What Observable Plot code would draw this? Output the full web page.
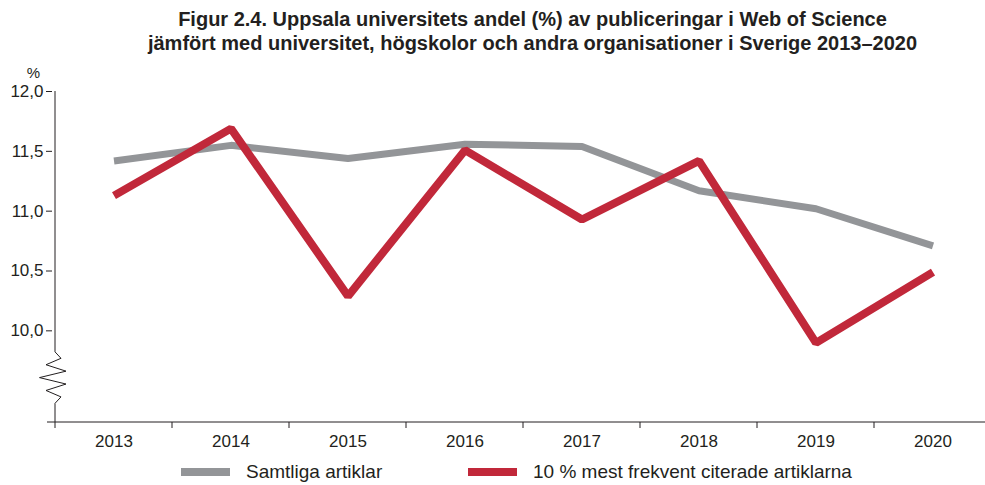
<!DOCTYPE html>
<html>
<head>
<meta charset="utf-8">
<script src="https://cdn.jsdelivr.net/npm/d3@7"></script>
<script src="https://cdn.jsdelivr.net/npm/@observablehq/plot@0.6"></script>
<style>
  html, body { margin: 0; padding: 0; background: #fff; }
  body { width: 985px; height: 485px; overflow: hidden; font-family: "Liberation Sans", Arial, sans-serif; color: #231f20; }
  #title { box-sizing: border-box; height: 55px; padding-top: 7px; padding-left: 80px; text-align: center; font-weight: bold; font-size: 20px; line-height: 24px; }
  #legend { position: relative; height: 30px; font-size: 19px; }
  .item { position: absolute; top: 2px; height: 30px; display: flex; align-items: center; }
  .sw { width: 49px; height: 8px; margin-right: 16px; }
  #chart svg { display: block; }
</style>
</head>
<body>
<div id="title"></div>
<div id="chart"></div>
<div id="legend"></div>
<script>
const titleLines = [
  "Figur 2.4. Uppsala universitets andel (%) av publiceringar i Web of Science",
  "jämfört med universitet, högskolor och andra organisationer i Sverige 2013–2020"
];
const years = [2013, 2014, 2015, 2016, 2017, 2018, 2019, 2020];
const samtliga = [11.42, 11.55, 11.44, 11.56, 11.54, 11.17, 11.02, 10.71];
const topp10 = [11.13, 11.69, 10.29, 11.51, 10.93, 11.42, 9.90, 10.49];
const seriesNames = ["Samtliga artiklar", "10 % mest frekvent citerade artiklarna"];
const seriesColors = ["#939598", "#c1283a"];
const yTicks = [10.0, 10.5, 11.0, 11.5, 12.0];
const yDomain = [9.234, 12];
const yBreak = [9.82, 9.39];
const yUnit = "%";

document.getElementById("title").innerHTML = titleLines.map(t => `<div>${t}</div>`).join("");

const toRows = (vals) => years.map((year, i) => ({year, value: vals[i]}));
const fmt = d => d.toFixed(1).replace(".", ",");

function axesMark(index, scales, values, dims) {
  const {x, y} = scales;
  const g = d3.create("svg:g").attr("fill", "none").attr("stroke", "#231f20").attr("stroke-width", 1);
  const y0 = dims.height - dims.marginBottom;
  const step = x(years[1]) - x(years[0]);
  const bounds = years.map(d => x(d)).concat([x(years[years.length - 1]) + step]);
  const left = bounds[0];
  g.append("line").attr("x1", left - 8).attr("x2", dims.width).attr("y1", y0).attr("y2", y0);
  for (const b of bounds.slice(1)) {
    g.append("line").attr("x1", b).attr("x2", b).attr("y1", y0).attr("y2", y0 + 6);
  }
  const yt = y(yBreak[0]), yb = y(yBreak[1]);
  const offs = [0, 6, -9, 11, -15.5, 11, -9, 6, 0];
  const pts = offs.map((o, i) => [left + o, yt + (yb - yt) * i / (offs.length - 1)]);
  const path = d3.path();
  path.moveTo(left, y(yDomain[1]));
  pts.forEach(([px, py]) => path.lineTo(px, py));
  path.lineTo(left, y0 + 6);
  g.append("path").attr("d", path.toString());
  return g.node();
}

const chart = Plot.plot({
  width: 985,
  height: 400,
  marginTop: 36,
  marginBottom: 33,
  marginLeft: 52,
  marginRight: 0,
  style: {fontFamily: "'Liberation Sans', Arial, sans-serif", fontSize: "17px", color: "#231f20", background: "#fff", overflow: "visible"},
  x: {type: "band", domain: years, range: [52, 993], padding: 0},
  y: {domain: yDomain},
  marks: [
    Plot.axisY({ticks: yTicks, tickFormat: fmt, tickSize: 6, tickPadding: 3, fontSize: 17, label: null, stroke: "#231f20"}),
    Plot.axisX({tickSize: 0, tickPadding: 12, fontSize: 17, label: null, tickFormat: d => String(d)}),
    Plot.text([yUnit], {frameAnchor: "top-left", dx: -19, dy: -18, fontSize: 15, fill: "#231f20", textAnchor: "middle", lineAnchor: "middle"}),
    axesMark,
    Plot.line(toRows(samtliga), {x: "year", y: "value", stroke: seriesColors[0], strokeWidth: 7, strokeLinejoin: "miter", strokeLinecap: "butt"}),
    Plot.line(toRows(topp10), {x: "year", y: "value", stroke: seriesColors[1], strokeWidth: 8, strokeLinejoin: "miter", strokeLinecap: "butt"})
  ]
});
document.getElementById("chart").append(chart);

const legendLefts = [181, 468];
const legend = document.getElementById("legend");
seriesNames.forEach((name, i) => {
  const it = document.createElement("div");
  it.className = "item";
  it.style.left = legendLefts[i] + "px";
  it.innerHTML = `<span class="sw" style="background:${seriesColors[i]}"></span><span>${name}</span>`;
  legend.append(it);
});
</script>
</body>
</html>
